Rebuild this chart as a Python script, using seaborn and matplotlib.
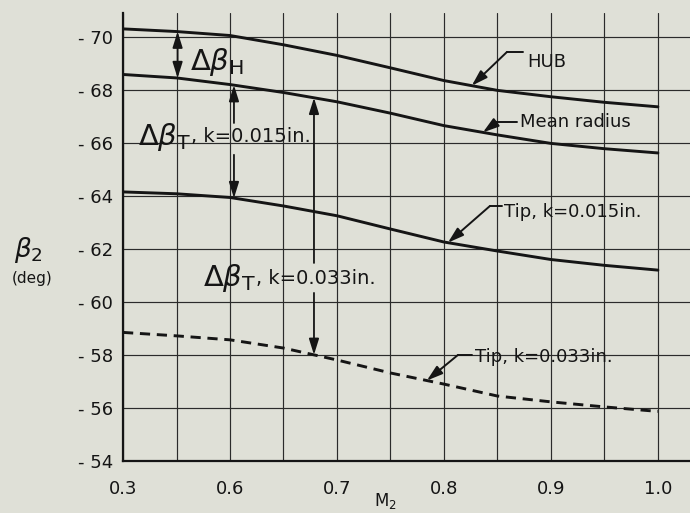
import numpy as np
import pandas as pd
import matplotlib
matplotlib.use("Agg")
import matplotlib.pyplot as plt
import seaborn as sns

# values
m2 = [0.50, 0.55, 0.60, 0.65, 0.70, 0.75, 0.80, 0.85, 0.90, 0.95, 1.00]
hub = [70.30, 70.20, 70.05, 69.70, 69.30, 68.83, 68.35, 67.98, 67.74, 67.53, 67.36]
mean_radius = [68.58, 68.45, 68.20, 67.90, 67.55, 67.12, 66.65, 66.30, 65.98, 65.78, 65.62]
tip_015 = [64.15, 64.08, 63.94, 63.62, 63.25, 62.75, 62.26, 61.92, 61.60, 61.38, 61.20]
tip_033 = [58.85, 58.72, 58.57, 58.26, 57.81, 57.32, 56.90, 56.45, 56.23, 56.04, 55.87]

xtick_pos = [0.5, 0.6, 0.7, 0.8, 0.9, 1.0]
xtick_labels = ["0.3", "0.6", "0.7", "0.8", "0.9", "1.0"]
xgrid_minor = [0.55, 0.65, 0.75, 0.85, 0.95]
ytick_pos = [54, 56, 58, 60, 62, 64, 66, 68, 70]
ytick_labels = ["- 54", "- 56", "- 58", "- 60", "- 62", "- 64", "- 66", "- 68", "- 70"]

bg = "#dfe0d7"
ink = "#151515"

sns.set_style("white")
plt.rcParams["font.family"] = ["DejaVu Sans"]
plt.rcParams["mathtext.fontset"] = "dejavusans"

fig = plt.figure(figsize=(6.9, 5.13), dpi=100, facecolor=bg)
ax = fig.add_axes([0.1783, 0.1014, 0.8217, 0.8733])
ax.set_facecolor(bg)

df = pd.DataFrame({"M2": m2, "hub": hub, "mean": mean_radius,
                   "tip015": tip_015, "tip033": tip_033})

for col in ["hub", "mean", "tip015"]:
    sns.lineplot(data=df, x="M2", y=col, ax=ax, color=ink, lw=2.1)
sns.lineplot(data=df, x="M2", y="tip033", ax=ax, color=ink, lw=2.1,
             linestyle=(0, (3.5, 2.3)))

ax.set_xlim(0.5, 1.03)
ax.set_ylim(54, 70.9)
ax.set_xticks(xtick_pos)
ax.set_xticklabels(xtick_labels, fontsize=13, color=ink)
ax.set_xticks(xgrid_minor, minor=True)
ax.set_yticks(ytick_pos)
ax.set_yticklabels(ytick_labels, fontsize=13, color=ink)
ax.tick_params(axis="both", which="both", length=0)
ax.tick_params(axis="x", pad=14)
ax.tick_params(axis="y", pad=7)

ax.grid(True, which="both", axis="x", color="#2b2b2b", lw=0.85)
ax.grid(True, which="major", axis="y", color="#2b2b2b", lw=0.85)
ax.set_axisbelow(True)

for s in ["top", "right"]:
    ax.spines[s].set_visible(False)
for s in ["left", "bottom"]:
    ax.spines[s].set_color(ink)
    ax.spines[s].set_linewidth(1.6)

ax.set_xlabel(r"M$_\mathregular{2}$", fontsize=12, color=ink)
ax.xaxis.set_label_coords(0.462, -0.067)
ax.set_ylabel("")
fig.text(0.041, 0.513, r"$\beta_2$", fontsize=19, color=ink, ha="center", va="center")
fig.text(0.046, 0.458, "(deg)", fontsize=11, color=ink, ha="center", va="center")

head = "-|>,head_length=0.8,head_width=0.25"
dhead = "<|-|>,head_length=0.8,head_width=0.25"
arrow_kw = dict(arrowstyle=head, color=ink, lw=1.3, mutation_scale=12,
                shrinkA=0, shrinkB=0)


def yat(series, x):
    return float(np.interp(x, m2, series))


# delta beta H
xh = 0.551
ax.annotate("", xy=(xh, yat(hub, xh)), xytext=(xh, yat(mean_radius, xh)),
            arrowprops=dict(arrow_kw, arrowstyle=dhead))
ax.text(0.5626, 69.06, r"$\Delta\beta_\mathregular{H}$", fontsize=21,
        color=ink, ha="left", va="center")

# delta beta T, k = 0.015 in.
xt1 = 0.6037
t1 = ax.text(0.514, 66.23, r"$\Delta\beta_\mathregular{T}$", fontsize=21,
             color=ink, ha="left", va="center")
ax.annotate(", k=0.015in.", xy=(1.0, 0.5), xycoords=t1, fontsize=14,
            color=ink, ha="left", va="center")
ax.annotate("", xy=(xt1, yat(mean_radius, xt1)), xytext=(xt1, 66.75),
            arrowprops=arrow_kw)
ax.annotate("", xy=(xt1, yat(tip_015, xt1)), xytext=(xt1, 65.55),
            arrowprops=arrow_kw)

# delta beta T, k = 0.033 in.
xt2 = 0.6785
t2 = ax.text(0.5748, 60.9, r"$\Delta\beta_\mathregular{T}$", fontsize=21,
             color=ink, ha="left", va="center")
ax.annotate(", k=0.033in.", xy=(1.0, 0.5), xycoords=t2, fontsize=14,
            color=ink, ha="left", va="center")
ax.annotate("", xy=(xt2, yat(mean_radius, xt2)), xytext=(xt2, 61.47),
            arrowprops=arrow_kw)
ax.annotate("", xy=(xt2, yat(tip_033, xt2)), xytext=(xt2, 60.34),
            arrowprops=arrow_kw)

# curve labels with leaders
labels = [
    ("HUB", hub, 0.826, 0.8589, 0.8738, 0.8776, 69.43, 69.06),
    ("Mean radius", mean_radius, 0.8364, 0.8495, 0.8682, 0.871, 66.79, 66.79),
    ("Tip, k=0.015in.", tip_015, 0.8037, 0.843, 0.8542, 0.856, 63.62, 63.40),
    ("Tip, k=0.033in.", tip_033, 0.784, 0.8131, 0.8262, 0.829, 58.0, 57.92),
]
for text, series, xa, xc, xe, xtx, yc, ytx in labels:
    ax.annotate("", xy=(xa, yat(series, xa)), xytext=(xc, yc),
                arrowprops=dict(arrow_kw, lw=1.4))
    ax.plot([xc, xe], [yc, yc], color=ink, lw=1.4)
    ax.text(xtx, ytx, text, fontsize=13, color=ink, ha="left", va="center")

fig.savefig("out.png", dpi=100, facecolor=bg)
